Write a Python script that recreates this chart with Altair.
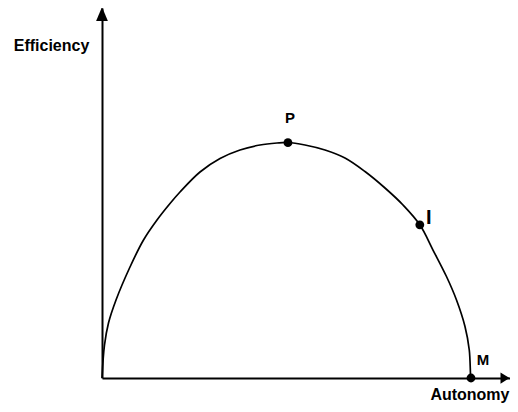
import altair as alt
import pandas as pd

# Curve (Autonomy, Efficiency)
curve_x = [0.0, 0.60, 1.56, 3.37, 6.73, 9.98, 13.22, 16.35, 18.75, 23.56, 28.37,
           33.17, 37.98, 42.07, 44.71, 48.80, 53.61, 58.41, 63.22, 68.03, 72.36,
           76.44, 79.57, 82.81, 85.22, 87.26, 88.29, 88.62, 88.70]
curve_y = [0.0, 8.92, 14.86, 21.08, 30.00, 37.30, 42.70, 47.16, 50.27, 55.68, 59.32,
           61.62, 62.97, 63.51, 63.65, 62.97, 61.62, 59.46, 55.81, 51.35, 46.76,
           41.35, 34.59, 27.43, 21.08, 13.92, 7.57, 0.5, 0.0]

# Labelled points
point_labels = ["P", "I", "M"]
point_x = [44.7, 76.4, 88.7]
point_y = [63.6, 41.4, 0.0]

# Axis ends (arrow tips)
y_axis_top = 100.27
x_axis_end = 97.96
x_max = 98.08

curve = pd.DataFrame({"x": curve_x, "y": curve_y})
pts = pd.DataFrame({"x": point_x, "y": point_y, "label": point_labels})

FONT = "Liberation Sans"
xs = alt.Scale(domain=[0, x_max], nice=False, zero=False)
ys = alt.Scale(domain=[0, 100], nice=False, zero=False)

x_axis = alt.Axis(domain=True, ticks=False, labels=False, grid=False,
                  domainColor="black", domainWidth=2,
                  title="Autonomy", titleFont=FONT, titleFontSize=16,
                  titleFontWeight="bold", titleColor="black",
                  titleX=407, titleY=16, titleAlign="right",
                  titleBaseline="middle", titleAnchor="start")
y_axis = alt.Axis(domain=True, ticks=False, labels=False, grid=False,
                  domainColor="black", domainWidth=2,
                  title="Efficiency", titleFont=FONT, titleFontSize=16,
                  titleFontWeight="bold", titleColor="black",
                  titleAngle=0, titleX=-51, titleY=37, titleAlign="center",
                  titleBaseline="middle", titleAnchor="start")

line = alt.Chart(curve).mark_line(
    interpolate="catmull-rom", color="black", strokeWidth=1.7
).encode(
    x=alt.X("x:Q", scale=xs, axis=x_axis),
    y=alt.Y("y:Q", scale=ys, axis=y_axis),
)

dots = alt.Chart(pts).mark_circle(size=78, color="black", opacity=1).encode(
    x=alt.X("x:Q", scale=xs), y=alt.Y("y:Q", scale=ys)
)


def label_layer(name, size, dx, dy):
    return alt.Chart(pts).transform_filter(
        alt.datum.label == name
    ).mark_text(
        font=FONT, fontSize=size, fontWeight="bold", color="black",
        baseline="middle", align="center", dx=dx, dy=dy
    ).encode(
        x=alt.X("x:Q", scale=xs), y=alt.Y("y:Q", scale=ys), text="label:N"
    )


p_label = label_layer("P", 15, 2, -25)
i_label = label_layer("I", 20, 9, -7)
m_label = label_layer("M", 15, 12, -18)

arrow_up = alt.Chart(pd.DataFrame({"x": [0.0], "y": [y_axis_top]})).mark_point(
    shape="M0,0L0.84,2L-0.84,2Z", size=196, filled=True, color="black",
    opacity=1, strokeWidth=0
).encode(x=alt.X("x:Q", scale=xs), y=alt.Y("y:Q", scale=ys))

arrow_right = alt.Chart(pd.DataFrame({"x": [x_axis_end], "y": [0.0]})).mark_point(
    shape="M0,0L-2,-1.25L-2,1.25Z", size=81, filled=True, color="black",
    opacity=1, strokeWidth=0
).encode(x=alt.X("x:Q", scale=xs), y=alt.Y("y:Q", scale=ys))

chart = alt.layer(line, dots, p_label, i_label, m_label, arrow_up, arrow_right).properties(
    width=408, height=370,
    autosize=alt.AutoSizeParams(type="none"),
    padding={"left": 94, "top": 0, "right": 0, "bottom": 26},
    background="white",
).configure_view(stroke=None)

chart.save("out.html", embed_options={"renderer": "svg", "actions": False})
